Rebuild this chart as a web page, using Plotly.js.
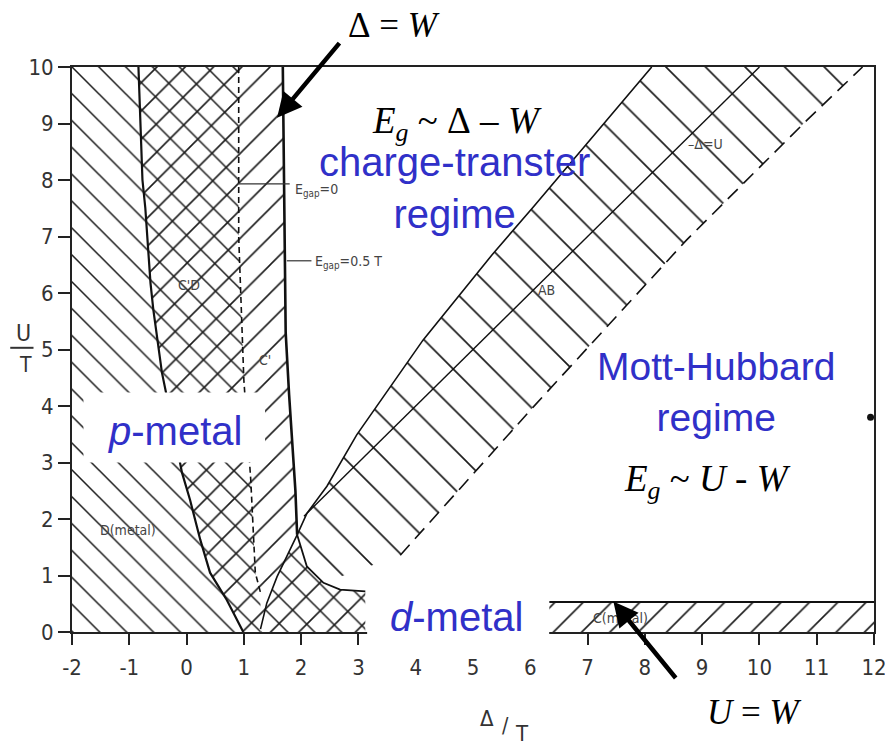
<!DOCTYPE html>
<html><head><meta charset="utf-8">
<script src="https://cdn.plot.ly/plotly-3.0.1.min.js"></script>
<style>html,body{margin:0;padding:0;background:#fff}#chart{width:885px;height:745px}</style>
</head><body><div id="chart"></div>
<script>
// ---- data (x = Δ/T, y = U/T) ----
const xTicks = [-2,-1,0,1,2,3,4,5,6,7,8,9,10,11,12];
const yTicks = [0,1,2,3,4,5,6,7,8,9,10];

// left boundary of the charge-transfer insulator (p-metal / C' boundary)
const lineA_x = [-0.84,-0.77,-0.72,-0.69,-0.63,-0.58,-0.43,-0.25,-0.08,0.06,0.24,0.41,0.70,0.99];
const lineA_y = [10,8.0,7.5,7.06,6.18,5.7,4.59,3.7,2.82,2.34,1.63,1.05,0.57,0];

// Δ = W line
const deltaW_x = [1.68,1.71,1.73,1.79,1.86,1.90,1.93];
const deltaW_y = [10,7.65,5.3,4.2,3.2,2.5,1.72];

// E_gap = 0 dashed line
const egap0_x = [0.91,0.91,1.0,1.06,1.12,1.2,1.29];
const egap0_y = [10,7.0,4.46,3.6,2.7,1.05,0.7];

// AB band edges and Δ = U centre line
const abUpper_x = [1.93,2.10,2.45,2.97,4.13,5.36,6.06,8.09,8.12];
const abUpper_y = [1.72,2.10,2.58,3.49,5.17,6.71,7.53,9.97,10];
const abLower_x = [3.73,6.05,8.73,10.83,11.8];
const abLower_y = [1.36,3.98,6.94,9.06,10];
const deltaU_x = [2.05,10.0];
const deltaU_y = [2.05,10.0];

// curves below the junction
const lowCurve_x = [1.93,2.10,2.39,2.68,3.12];
const lowCurve_y = [1.72,1.16,0.87,0.75,0.72];
const juncLine_x = [1.93,1.75,1.58,1.40,1.29];
const juncLine_y = [1.72,1.34,0.98,0.51,0.05];

// C (metal) strip
const cband_x = [6.33,6.33,12,12];
const cband_y = [0,0.53,0.53,0];

// label leader lines
const lead0_x = [0.91,1.80], lead0_y = [7.93,7.93];
const lead05_x = [1.75,2.18], lead05_y = [6.57,6.57];

// ---- build polygons from the arrays ----
const rev = a => a.slice().reverse();
const D_x = [-2,-2].concat(egap0_x,[1.29]);
const D_y = [0,10].concat(egap0_y,[0]);
const CT_x = lineA_x.concat([3.12,3.12], rev(lowCurve_x).slice(1), rev(deltaW_x).slice(1));
const CT_y = lineA_y.concat([0,0.72], rev(lowCurve_y).slice(1), rev(deltaW_y).slice(1));
const L_x = juncLine_x.concat([1.29,3.12], rev(lowCurve_x));
const L_y = juncLine_y.concat([0,0], rev(lowCurve_y));
const AB_x = abUpper_x.concat(rev(abLower_x), [lowCurve_x[2], lowCurve_x[1]]);
const AB_y = abUpper_y.concat(rev(abLower_y), [lowCurve_y[2], lowCurve_y[1]]);

const HC = '#1c1c1c';
function hatch(xs, ys, shape, size, sol){
  return {type:'scatter', mode:'lines', x:xs, y:ys, fill:'toself', fillcolor:'rgba(0,0,0,0)',
    line:{width:0, color:'rgba(0,0,0,0)'}, hoverinfo:'skip', showlegend:false,
    fillpattern:{shape:shape, size:size, solidity:sol, fgcolor:HC, fillmode:'replace'}};
}
function ln(xs, ys, w, dash, col){
  return {type:'scatter', mode:'lines', x:xs, y:ys, line:{width:w, color:col||'#111', dash:dash||'solid'},
    hoverinfo:'skip', showlegend:false};
}

const traces = [
  hatch(D_x, D_y, '\\', 19, 0.08),
  hatch(CT_x, CT_y, '/', 20, 0.08),
  hatch(L_x, L_y, '\\', 19, 0.08),
  hatch(AB_x, AB_y, '\\', 28, 0.06),
  hatch(cband_x, cband_y, '/', 20, 0.08),
  ln(lineA_x, lineA_y, 2.2),
  ln(deltaW_x, deltaW_y, 2.6),
  ln(egap0_x, egap0_y, 1.6, '6px,4px'),
  ln(abUpper_x, abUpper_y, 1.6),
  ln(abLower_x, abLower_y, 1.6, '14px,8px'),
  ln(deltaU_x, deltaU_y, 1.4),
  ln(lowCurve_x, lowCurve_y, 1.8),
  ln(juncLine_x, juncLine_y, 1.6),
  ln(cband_x.slice(1,3), cband_y.slice(1,3), 2),
  ln(lead0_x, lead0_y, 1.2, 'solid', '#333'),
  ln(lead05_x, lead05_y, 1.2, 'solid', '#333'),
  {type:'scatter', mode:'markers', x:[11.94], y:[3.8], marker:{size:7, color:'#111'}, cliponaxis:false,
   hoverinfo:'skip', showlegend:false}
];

const BLUE = 'rgb(48,48,200)';
const SERIF = 'Liberation Serif, Times New Roman, serif';
const SANS = 'Liberation Sans, Arial, sans-serif';
const SMALL = {family:'DejaVu Sans Condensed, DejaVu Sans, sans-serif', size:14, color:'#444'};
const AXF = 'DejaVu Sans Condensed, DejaVu Sans, sans-serif';
function txt(x, y, t, font, extra){
  return Object.assign({x:x, y:y, xref:'x', yref:'y', text:t, showarrow:false, font:font,
    xanchor:'center', yanchor:'middle'}, extra||{});
}
function ptxt(x, y, t, font){
  return {x:x, y:y, xref:'paper', yref:'paper', text:t, showarrow:false, font:font,
    xanchor:'center', yanchor:'middle'};
}

const annotations = [
  ptxt(0.4015, 1.074, 'Δ&nbsp;=&nbsp;<i>W</i>', {family:SERIF, size:35, color:'#000'}),
  txt(4.72, 9.0, '<i>E<sub>g</sub></i>&nbsp;~&nbsp;Δ&nbsp;–&nbsp;<i>W</i>', {family:SERIF, size:37, color:'#000'}),
  txt(4.67, 7.86, 'charge-transter<br>regime', {family:SANS, size:40, color:BLUE}),
  txt(9.24, 4.25, 'Mott-Hubbard<br>regime', {family:SANS, size:39, color:BLUE}),
  txt(9.09, 2.66, '<i>E<sub>g</sub></i>&nbsp;~&nbsp;<i>U</i>&nbsp;-&nbsp;<i>W</i>', {family:SERIF, size:37, color:'#000'}),
  txt(-0.197, 3.55, '<i>p</i>-metal', {family:SANS, size:40, color:BLUE}),
  txt(4.72, 0.27, '<i>d</i>-metal', {family:SANS, size:40, color:BLUE}),
  ptxt(0.8516, -0.1416, '<i>U</i>&nbsp;=&nbsp;<i>W</i>', {family:SERIF, size:35, color:'#000'}),
  txt(1.86, 7.83, 'E<sub>gap</sub>=0', SMALL, {xanchor:'left'}),
  txt(2.21, 6.54, 'E<sub>gap</sub>=0.5 T', SMALL, {xanchor:'left'}),
  txt(0.05, 6.15, "C'D", SMALL),
  txt(1.375, 4.82, "C'", SMALL),
  txt(-1.03, 1.81, 'D(metal)', SMALL),
  txt(6.28, 6.06, 'AB', SMALL),
  txt(9.05, 8.63, '–Δ=U', SMALL),
  txt(7.57, 0.25, 'C(metal)', SMALL),
  // axis titles (outside the plot area: paper coordinates)
  ptxt(-0.0599, 0.529, 'U', {family:AXF, size:23, color:'#333'}),
  ptxt(-0.0574, 0.4726, 'T', {family:AXF, size:21, color:'#333'}),
  ptxt(0.5175, -0.153, 'Δ', {family:AXF, size:22, color:'#333'}),
  ptxt(0.540, -0.166, '/', {family:AXF, size:21, color:'#333'}),
  ptxt(0.561, -0.180, 'T', {family:AXF, size:22, color:'#333'}),
  // arrows
  {x:1.58, y:9.10, ax:2.69, ay:10.45, axref:'x', ayref:'y', xref:'x', yref:'y', text:'', showarrow:true,
   arrowhead:2, arrowsize:1.1, arrowwidth:4.5, arrowcolor:'#000', standoff:0},
  {x:7.45, y:0.54, ax:8.56, ay:-0.84, axref:'x', ayref:'y', xref:'x', yref:'y', text:'', showarrow:true,
   arrowhead:2, arrowsize:1.1, arrowwidth:4.5, arrowcolor:'#000', standoff:0}
];

const shapes = [
  {type:'rect', xref:'x', yref:'y', x0:-1.80, x1:1.37, y0:3.0, y1:4.24, fillcolor:'#fff', line:{width:0}, layer:'above'},
  {type:'rect', xref:'paper', yref:'paper', x0:0.368, x1:0.595, y0:-0.027, y1:0.078, fillcolor:'#fff', line:{width:0}, layer:'above'},
  {type:'line', xref:'paper', yref:'paper', x0:-0.077, x1:-0.048, y0:0.503, y1:0.503, line:{width:2, color:'#333'}}
];

const axisCommon = {showline:true, linecolor:'#222', linewidth:2, mirror:true, showgrid:false, zeroline:false,
  ticks:'outside', tickwidth:2, tickcolor:'#222', fixedrange:true, ticklabeloverflow:'allow',
  tickfont:{family:AXF, size:22, color:'#333'}};

const layout = {
  width:885, height:745, paper_bgcolor:'#fff', plot_bgcolor:'#fff',
  margin:{l:72, r:11, t:67, b:113},
  xaxis:Object.assign({}, axisCommon, {range:[-2,12], tickvals:xTicks, ticktext:xTicks.map(String), ticklen:11, ticklabelstandoff:4}),
  yaxis:Object.assign({}, axisCommon, {range:[0,10], tickvals:yTicks, ticktext:yTicks.map(String), ticklen:12}),
  annotations:annotations, shapes:shapes, showlegend:false
};

Plotly.newPlot('chart', traces, layout, {staticPlot:true});
</script></body></html>
